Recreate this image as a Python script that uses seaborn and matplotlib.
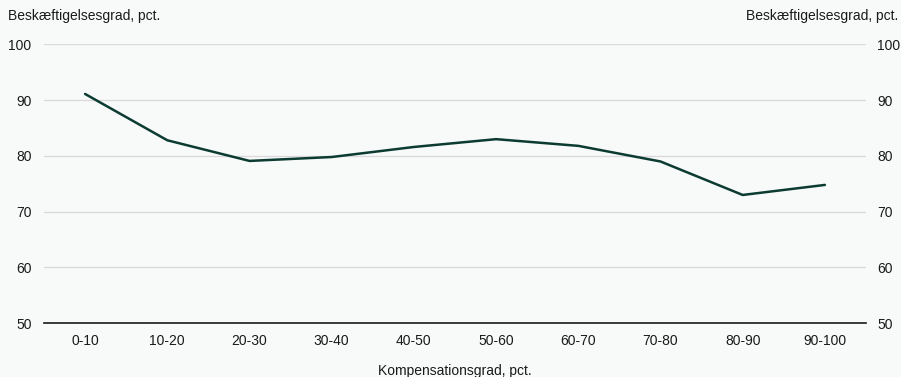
import seaborn as sns
import matplotlib.pyplot as plt
import numpy as np
import pandas as pd

# Data
categories = ["0-10", "10-20", "20-30", "30-40", "40-50",
              "50-60", "60-70", "70-80", "80-90", "90-100"]
employment = [91.1, 82.8, 79.1, 79.8, 81.6, 83.0, 81.8, 79.0, 73.0, 74.8]
yticks = [50, 60, 70, 80, 90, 100]

df = pd.DataFrame({"Kompensationsgrad": categories, "Beskæftigelsesgrad": employment})

sns.set_theme(style="white")
plt.rcParams["font.family"] = ["Liberation Sans", "DejaVu Sans"]

bg = "#f8f9f9"
fig = plt.figure(figsize=(9.01, 3.77), dpi=100, facecolor=bg)
ax = fig.add_axes([44 / 901, 1 - 323.3 / 377, 822 / 901, 279 / 377])
ax.set_facecolor(bg)

sns.lineplot(data=df, x="Kompensationsgrad", y="Beskæftigelsesgrad", ax=ax,
             color="#0c3b32", linewidth=1.8, sort=False)

ax.set_ylim(50, 100)
ax.set_xlim(-0.5, len(categories) - 0.5)
ax.set_yticks(yticks)
ax.yaxis.grid(True, color="#d9d9d9", linewidth=0.9)
ax.set_axisbelow(True)

# category labels centred, tick marks on boundaries
ax.set_xticks(range(len(categories)), categories)
ax.set_xticks(np.arange(-0.5, len(categories)), minor=True)
ax.tick_params(axis="x", which="major", length=0, pad=8, labelsize=10, colors="#1a1a1a")
ax.tick_params(axis="x", which="minor", length=4, width=0.8, color="#555555", direction="out")
ax.tick_params(axis="y", length=0, pad=9, labelsize=10, colors="#1a1a1a")

for s in ["left", "right", "top"]:
    ax.spines[s].set_visible(False)
ax.spines["bottom"].set_color("#1a1a1a")
ax.spines["bottom"].set_linewidth(1.2)

ax.set_xlabel("")
ax.set_ylabel("")

# right-hand axis mirrors the left
ax2 = ax.twinx()
ax2.set_ylim(ax.get_ylim())
ax2.set_yticks(yticks)
ax2.tick_params(axis="y", length=0, pad=8, labelsize=10, colors="#1a1a1a")
for s in ax2.spines.values():
    s.set_visible(False)

fig.text(8 / 901, 1 - 16 / 377, "Beskæftigelsesgrad, pct.", fontsize=10,
         ha="left", va="center", color="#1a1a1a")
fig.text(898 / 901, 1 - 16 / 377, "Beskæftigelsesgrad, pct.", fontsize=10,
         ha="right", va="center", color="#1a1a1a")
fig.text(455 / 901, 1 - 371 / 377, "Kompensationsgrad, pct.", fontsize=10,
         ha="center", va="center", color="#1a1a1a")

fig.savefig("out.png", dpi=100, facecolor=bg)
